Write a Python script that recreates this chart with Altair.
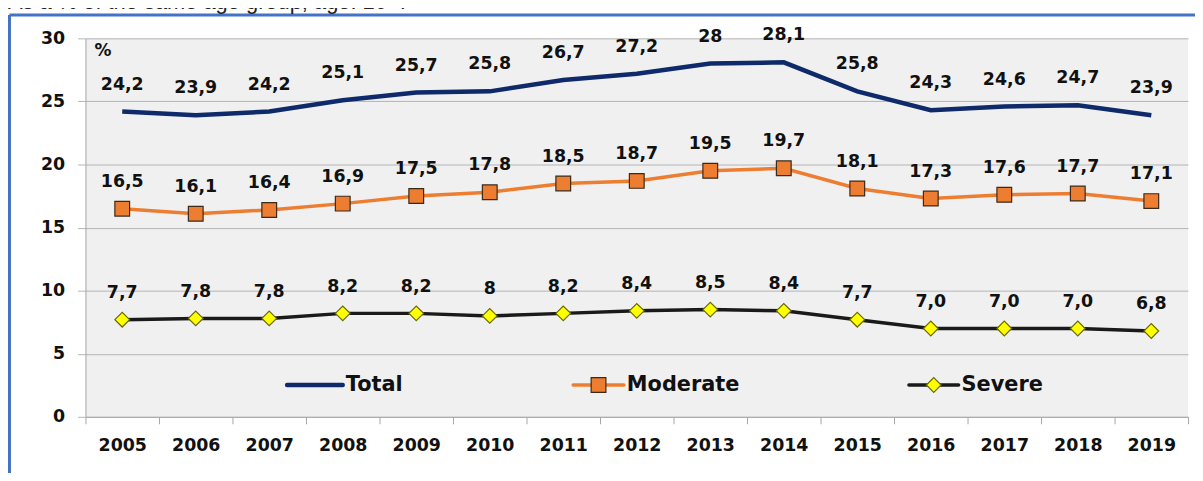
import altair as alt
import pandas as pd

years = [str(y) for y in range(2005, 2020)]
total = [24.2, 23.9, 24.2, 25.1, 25.7, 25.8, 26.7, 27.2, 28.0, 28.1, 25.8, 24.3, 24.6, 24.7, 23.9]
moderate = [16.5, 16.1, 16.4, 16.9, 17.5, 17.8, 18.5, 18.7, 19.5, 19.7, 18.1, 17.3, 17.6, 17.7, 17.1]
severe = [7.7, 7.8, 7.8, 8.2, 8.2, 8.0, 8.2, 8.4, 8.5, 8.4, 7.7, 7.0, 7.0, 7.0, 6.8]
total_labels = ["24,2", "23,9", "24,2", "25,1", "25,7", "25,8", "26,7", "27,2", "28", "28,1",
                "25,8", "24,3", "24,6", "24,7", "23,9"]
moderate_labels = ["16,5", "16,1", "16,4", "16,9", "17,5", "17,8", "18,5", "18,7", "19,5", "19,7",
                   "18,1", "17,3", "17,6", "17,7", "17,1"]
severe_labels = ["7,7", "7,8", "7,8", "8,2", "8,2", "8", "8,2", "8,4", "8,5", "8,4",
                 "7,7", "7,0", "7,0", "7,0", "6,8"]
y_ticks = [0, 5, 10, 15, 20, 25, 30]

FONT = "DejaVu Sans"
W, H = 1110, 381

def frame(vals, labs):
    return pd.DataFrame({"year": years, "value": vals, "label": labs})

x_enc = alt.X("year:O", title=None,
              scale=alt.Scale(type="band", paddingInner=0, paddingOuter=0),
              axis=alt.Axis(tickBand="extent", tickSize=7, tickColor="#A6A6A6",
                            domainColor="#A6A6A6", labelAngle=0, labelPadding=13,
                            labelFont=FONT, labelFontSize=17.5, labelFontWeight="bold",
                            labelColor="#111111", grid=False))
y_enc = alt.Y("value:Q", title=None,
              scale=alt.Scale(domain=[0, 30], nice=False, zero=True),
              axis=alt.Axis(values=y_ticks, grid=True, gridColor="#B4B4B4",
                            domainColor="#A6A6A6", tickColor="#B4B4B4", tickSize=8,
                            labelPadding=13, labelFont=FONT, labelFontSize=17.5,
                            labelFontWeight="bold", labelColor="#111111"))

def series(df, color, width, shape=None, fill=None, stroke=None, size=None):
    base = alt.Chart(df)
    layers = [base.mark_line(color=color, strokeWidth=width).encode(x=x_enc, y=y_enc)]
    if shape:
        layers.append(base.mark_point(shape=shape, filled=True, fill=fill, stroke=stroke,
                                      strokeWidth=1.2, size=size, opacity=1)
                      .encode(x=x_enc, y=y_enc))
    layers.append(base.mark_text(dy=-27, font=FONT, fontSize=17.5, fontWeight="bold",
                                 color="#111111", baseline="middle")
                  .encode(x=x_enc, y=y_enc, text="label:N"))
    return layers

layers = []
layers += series(frame(total, total_labels), "#0E2A6A", 4.5)
layers += series(frame(moderate, moderate_labels), "#ED7D31", 3.5, "square", "#ED7D31", "#3A2A1A", 220)
layers += series(frame(severe, severe_labels), "#1A1A1A", 3.5, "diamond", "#FFFF00", "#6A6A00", 220)

one = pd.DataFrame({"a": [0]})

# "%" unit label
layers.append(alt.Chart(one).mark_text(text="%", font=FONT, fontSize=17, fontWeight="bold",
                                       align="left", baseline="middle", color="#111111")
              .encode(x=alt.value(9), y=alt.value(13)))

# manual legend
legend_items = [
    ("Total", "#0E2A6A", 4.5, None, None, None, None, 203, 259),
    ("Moderate", "#ED7D31", 3.5, "square", "#ED7D31", "#3A2A1A", 220, 491, 542),
    ("Severe", "#1A1A1A", 3.5, "diamond", "#FFFF00", "#6A6A00", 220, 829, 879),
]
LY = 349
for name, col, sw, shp, fl, st, sz, x0, x1 in legend_items:
    layers.append(alt.Chart(one).mark_rule(color=col, strokeWidth=sw, strokeCap="round")
                  .encode(x=alt.value(x0), x2=alt.value(x1), y=alt.value(LY)))
    if shp:
        layers.append(alt.Chart(one).mark_point(shape=shp, filled=True, fill=fl, stroke=st,
                                                strokeWidth=1.2, size=sz, opacity=1)
                      .encode(x=alt.value((x0 + x1) / 2), y=alt.value(LY)))
    layers.append(alt.Chart(one).mark_text(text=name, font=FONT, fontSize=21, fontWeight="bold",
                                           align="left", baseline="middle", color="#111111")
                  .encode(x=alt.value(x1 + 3), y=alt.value(LY)))

# outer blue frame
layers.append(alt.Chart(one).mark_rule(color="#4472C4", strokeWidth=3)
              .encode(x=alt.value(-76.5), x2=alt.value(1130), y=alt.value(-23.5)))
layers.append(alt.Chart(one).mark_rule(color="#4472C4", strokeWidth=3)
              .encode(x=alt.value(-76.5), y=alt.value(-23.5), y2=alt.value(460)))

# caption above (cut off at the top, as in the source)
layers.append(alt.Chart(one).mark_text(text="As a % of the same age group, age: 16+.",
                                       font="Liberation Sans", fontSize=22, align="left",
                                       baseline="alphabetic", color="#222222")
              .encode(x=alt.value(-78), y=alt.value(-30)))

chart = alt.layer(*layers).properties(
    width=W, height=H,
    autosize=alt.AutoSizeParams(type="none"),
    padding={"left": 78, "top": 29, "right": 7, "bottom": 55},
    background="white",
).configure_view(fill="#F0F0F0", stroke=None)

chart.save("out.html", embed_options={"renderer": "svg", "actions": False})
